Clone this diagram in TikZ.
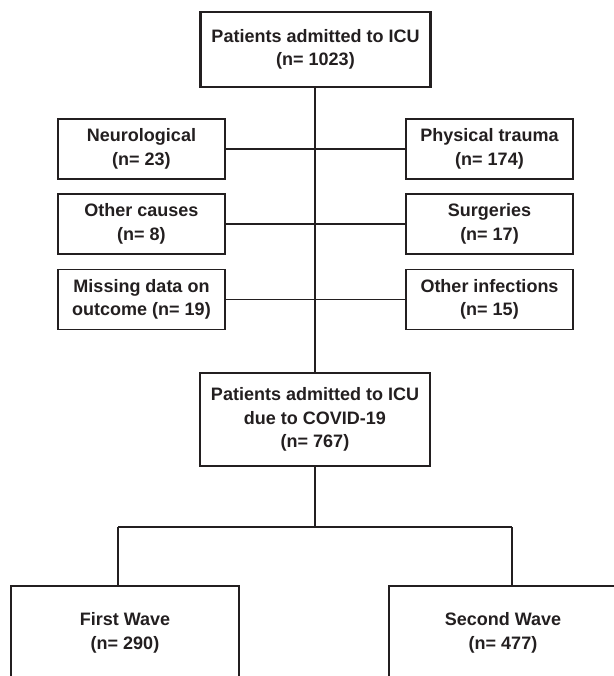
\documentclass[tikz,border=0pt]{standalone}
\usepackage{fontspec}
\setmainfont{Liberation Sans}
\usepackage{tikz}
\usetikzlibrary{positioning}
\definecolor{ink}{RGB}{35,31,32}

\begin{document}
\begin{tikzpicture}[x=1pt,y=-1pt,
        mainbox/.style={draw=ink,line width=2.7pt,fill=white,align=center,inner sep=0pt,minimum width=230pt,text=ink,font=\fontsize{18}{23.5}\selectfont\bfseries},
        sidebox/.style={draw=ink,line width=1.3pt,fill=white,align=center,inner sep=0pt,minimum width=167pt,minimum height=60pt,text=ink,font=\fontsize{18}{23.5}\selectfont\bfseries},
        link/.style={draw=ink,line width=1.2pt}]
            \useasboundingbox (0,0) rectangle (613,676);
            \node[mainbox,minimum height=75pt] (top) at (315.5,49.5) {Patients admitted to ICU\\(n= 1023)};
            \node[sidebox] (neuro) at (141.5,149) {Neurological\\(n= 23)};
            \node[sidebox] (trauma) at (489.5,149) {Physical trauma\\(n= 174)};
            \node[sidebox] (other) at (141.5,224) {Other causes\\(n= 8)};
            \node[sidebox] (surg) at (489.5,224) {Surgeries\\(n= 17)};
            \node[sidebox] (miss) at (141.5,299.5) {Missing data on\\outcome (n= 19)};
            \node[sidebox] (infect) at (489.5,299.5) {Other infections\\(n= 15)};
            \node[mainbox,minimum height=93pt] (covid) at (315,419.5) {Patients admitted to ICU\\due to COVID-19\\(n= 767)};
            \node[mainbox,minimum width=228pt,minimum height=94pt] (first) at (125,633) {First Wave\\(n= 290)};
            \node[mainbox,minimum width=228pt,minimum height=94pt] (second) at (503,633) {Second Wave\\(n= 477)};
            \coordinate (split) at (315,527);
            \coordinate (lbr) at (118,527);
            \coordinate (rbr) at (512,527);
            % exclusions
            \draw[link] (top.south -| covid.north) -- (covid.north);
            \draw[link] (neuro.east) -- (trauma.west);
            \draw[link] (other.east) -- (surg.west);
            \draw[link] (miss.east) -- (infect.west);
            % waves
            \draw[link] (covid.south) -- (split);
            \draw[link] (lbr) -- (rbr);
            \draw[link] (lbr) -- (lbr |- first.north);
            \draw[link] (rbr) -- (rbr |- second.north);
        \end{tikzpicture}
\end{document}
